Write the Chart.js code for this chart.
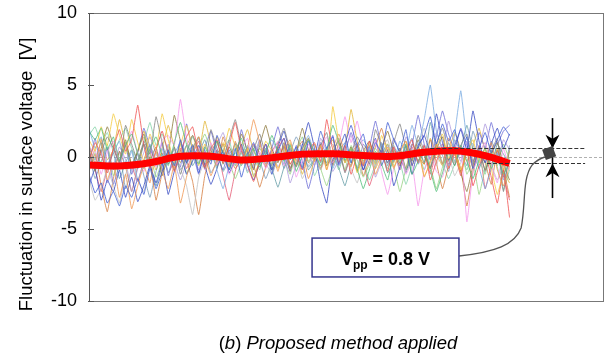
<!DOCTYPE html>
<html>
<head>
<meta charset="utf-8">
<script src="https://cdn.jsdelivr.net/npm/chart.js@4.4.0/dist/chart.umd.min.js"></script>
<style>
html, body { margin: 0; padding: 0; background: #fff; }
canvas { display: block; }
</style>
</head>
<body>
<canvas id="canvas" width="605" height="356"></canvas>
<script>
'use strict';

// y axis ticks
const yTicks = [10, 5, 0, -5, -10];

// thick red trace (averaged fluctuation), x in sample index
const redX = [0, 5, 10, 15, 20, 25, 30, 35, 40, 45, 50, 55, 60, 65, 69];
const redY = [-0.55, -0.62, -0.4, 0.05, 0.05, -0.2, -0.05, 0.2, 0.22, 0.1, 0.05, 0.33, 0.43, 0.1, -0.45];

// individual thin traces, one value per sample index (0..69)
const trace01 = [-1.2,-2.5,-1.8,-3.2,-2.4,-3.4,-2.0,-2.8,-1.5,-2.6,
    -0.8,-2.2,-1.0,0.5,-0.6,1.2,-0.4,0.8,-1.1,0.3,
    -0.5,1.5,0.2,-0.9,0.6,-1.4,0.1,1.0,-0.3,0.9,
    -1.2,0.4,1.3,-0.2,0.7,-0.8,1.1,0.0,1.8,0.6,
    1.4,-0.5,0.9,2.2,0.8,1.6,-0.2,1.0,0.3,2.4,
    1.2,0.4,1.9,-0.6,0.8,1.5,2.8,0.9,2.3,1.1,
    1.9,0.2,1.4,-0.8,0.6,1.7,0.3,1.2,2.1,1.5];
const trace02 = [0.8,-0.5,1.2,-1.6,-0.4,-2.8,-1.2,-3.6,-2.0,-0.6,
    -1.8,0.4,-0.9,-2.2,-0.5,-3.2,-1.4,0.2,1.4,0.1,
    -1.3,-0.2,0.9,-0.7,1.1,-0.4,0.6,2.6,1.0,-0.6,
    0.3,-1.0,0.5,1.2,-0.3,0.4,-1.5,-0.2,0.8,-0.9,
    0.6,1.6,0.2,-0.7,1.0,-0.5,0.4,-1.2,-0.1,0.7,
    -0.8,0.3,1.1,-0.6,0.5,-1.4,-0.3,0.9,-0.5,1.3,
    0.2,-1.1,0.4,-0.7,0.6,-0.2,1.0,-0.9,-2.0,-0.6];
const trace03 = [1.8,1.2,2.0,0.5,1.4,-0.3,0.8,1.6,0.2,-0.8,
    0.6,1.4,0.1,-0.6,1.0,2.4,0.9,0.2,-0.5,0.7,
    -0.2,1.1,0.3,-0.9,0.4,1.3,-0.1,0.6,-0.7,0.2,
    1.5,0.4,-0.3,0.8,-1.0,0.1,1.2,0.3,-0.6,0.5,
    2.2,1.0,-0.2,0.6,-0.8,-2.2,-0.9,0.4,-0.5,-1.6,
    0.2,-0.4,0.9,-1.2,-0.3,0.5,-0.9,-2.4,-1.1,0.3,
    -0.6,0.8,-0.3,-1.5,-0.2,0.6,-0.8,0.1,-1.2,-0.4];
const trace04 = [-0.3,1.0,0.2,-1.1,0.6,1.9,0.4,1.2,3.6,0.8,
    -0.8,0.5,1.8,0.3,-1.0,0.4,1.4,2.1,0.2,-0.7,
    0.6,1.2,-0.4,0.8,2.4,0.5,-0.6,-1.7,-0.3,0.9,
    -0.2,0.6,1.3,-0.5,0.2,-0.9,0.4,1.0,-0.3,2.6,
    0.5,-0.4,0.8,-1.2,0.1,-0.6,1.1,-0.2,0.4,-1.0,
    0.7,-0.5,0.3,1.2,-0.4,0.8,-1.6,-0.3,0.6,-0.8,
    0.2,-1.3,0.5,-2.0,-0.6,0.3,-1.4,-3.2,-0.9,-4.2];
const trace05 = [0.5,-0.8,0.3,1.4,0.6,-0.4,2.2,0.9,-0.3,1.1,
    0.2,2.8,1.0,-0.5,0.7,-1.2,0.3,1.5,0.4,-0.8,
    1.9,0.6,-0.2,1.2,2.6,0.8,-0.4,0.5,1.6,0.1,
    -0.6,0.9,2.0,0.4,-0.7,0.6,1.3,-0.2,0.8,1.7,
    -0.3,0.5,-1.1,0.2,1.4,0.6,-0.5,1.9,0.7,-0.4,
    1.0,2.3,0.6,-0.2,1.5,0.4,-0.8,0.9,2.0,0.5,
    -0.6,0.8,1.6,-0.3,0.7,-1.0,0.4,1.3,-2.4,0.6];
const trace06 = [1.2,0.4,2.1,0.8,3.0,1.5,0.2,2.6,1.0,-0.3,
    1.6,0.5,3.0,1.2,-0.4,0.8,2.2,0.6,-0.6,0.9,
    -0.2,1.4,0.3,2.0,0.7,-0.5,0.6,-1.4,-0.2,1.1,
    0.4,-0.8,0.2,1.0,-0.6,0.5,1.3,-0.3,0.8,-0.9,
    3.5,1.0,-0.4,0.6,-1.1,0.2,0.9,-0.5,1.5,0.3,
    -0.7,0.4,1.1,-0.2,0.6,-1.3,-0.4,0.7,1.6,-0.1,
    0.5,-0.9,0.3,1.2,-0.4,0.6,-0.8,-2.6,-1.0,0.4];
const trace07 = [-0.6,0.5,-1.2,0.3,1.1,-0.4,0.6,1.8,0.2,-1.0,
    0.4,-0.7,1.2,1.5,0.8,4.0,1.3,-0.2,0.7,-0.9,
    1.0,-0.5,0.2,-1.2,-0.3,0.6,1.3,-0.4,0.4,-0.8,
    0.2,1.1,-0.6,0.5,-1.4,-0.2,0.9,-0.3,0.6,1.4,
    -0.4,0.8,2.8,1.0,2.5,0.6,-0.6,1.2,-1.0,-2.6,
    -0.8,0.3,-1.2,-0.4,-3.4,-0.9,0.2,-1.0,-1.4,0.4,
    -0.5,0.8,-4.5,-1.1,0.3,1.0,-0.6,-1.8,0.6,-0.9];
const trace08 = [2.0,0.6,1.4,-0.5,0.3,1.1,-0.8,0.4,-1.6,-0.4,
    0.9,-0.3,0.6,-1.1,0.2,1.0,-0.5,0.4,1.3,-0.2,
    0.7,-0.9,-2.2,-0.6,0.3,-0.4,0.8,0.1,-0.7,0.5,
    1.2,0.3,-0.5,0.9,-0.2,0.6,1.5,0.2,-0.4,0.7,
    -0.8,0.3,1.0,-0.3,0.6,1.2,0.4,-0.5,0.9,0.2,
    -0.3,1.1,0.4,2.2,0.8,2.6,5.0,1.8,0.5,-0.6,
    1.6,4.6,1.2,0.9,-0.7,-2.2,-0.8,0.3,-1.6,-0.3];
const trace09 = [0.3,-1.0,0.6,2.1,0.8,-0.3,1.2,-0.6,0.4,1.6,
    -0.2,0.7,-1.3,0.2,2.9,1.1,-0.4,0.6,1.4,-0.8,
    0.3,1.1,-0.5,0.7,-0.2,1.6,0.4,-0.9,0.8,2.2,
    0.6,-0.4,1.0,-0.8,0.3,2.0,0.5,-0.3,0.9,-0.6,
    0.2,1.3,-0.4,0.7,-1.0,0.4,1.1,-0.2,0.6,1.8,
    0.3,-0.6,0.8,-0.3,1.2,0.1,-0.8,0.5,1.4,-0.3,
    0.7,-1.1,-2.4,-0.6,0.4,-0.9,0.2,1.0,-0.5,-1.6];
const trace10 = [-2.0,-0.8,-3.0,-1.6,-2.4,-0.9,-2.8,-1.4,-3.1,-2.0,
    -0.6,-1.8,-0.4,-2.6,-1.0,0.2,-1.2,-0.3,0.8,-0.6,
    -1.9,-0.8,0.5,-1.1,-0.2,0.9,-0.5,-1.6,-0.4,0.4,
    -0.9,0.7,1.8,0.2,-0.6,0.8,2.4,0.6,-1.8,-3.2,
    -0.2,0.5,1.6,-0.4,0.8,-0.9,0.2,1.3,-0.6,0.5,
    -2.0,-0.7,0.4,-1.2,0.6,1.5,0.3,3.0,1.0,-0.2,
    0.8,1.9,0.5,3.2,1.1,-0.4,0.9,2.0,0.6,1.6];
const trace11 = [-1.5,-3.0,-2.2,-0.8,-2.0,-3.2,-1.2,-0.4,-1.6,-2.4,
    -0.6,0.3,-1.0,-0.3,0.5,-0.8,-2.0,-4.0,-1.4,-0.2,
    0.6,-0.5,0.2,-0.9,-0.1,0.8,-0.6,0.3,1.0,-0.4,
    -1.2,-0.2,0.5,-0.7,0.1,-1.5,-0.6,0.4,-0.9,0.2,
    0.9,-0.3,0.5,-0.8,-1.8,-0.4,0.3,-0.7,0.6,1.2,
    -0.2,0.5,-1.0,-0.3,0.7,2.0,0.4,-0.6,0.8,0.2,
    -1.3,-0.4,0.5,-0.8,0.2,1.0,-0.5,-1.6,-0.6,0.4];
const trace12 = [0.6,-0.2,1.0,-0.9,0.3,-1.5,-0.4,0.5,-0.8,0.9,
    -0.5,-2.0,-0.6,0.4,-0.9,-0.1,0.8,-0.6,0.2,1.2,
    -0.3,0.4,-1.0,-0.2,0.9,-0.6,0.3,-1.3,-0.4,0.5,
    -0.8,-2.1,-0.7,0.2,-0.5,0.6,-0.9,-0.2,0.7,-0.4,
    0.3,-0.8,-2.0,-0.5,0.4,-0.6,0.8,-0.3,0.5,-1.1,
    -0.2,0.6,-0.9,-0.1,0.7,-0.4,2.4,0.6,-0.5,1.0,
    -0.3,0.6,2.2,0.5,-0.8,0.3,-0.6,0.9,0.2,-0.5];
const trace13 = [0.9,-0.4,0.5,-1.8,-0.6,0.7,-0.2,-2.4,-0.8,0.3,
    1.4,0.2,-0.5,0.9,-0.3,-1.6,-0.4,0.6,-0.9,0.4,
    -0.2,0.8,1.7,0.3,-0.5,0.6,-1.0,0.2,1.1,-0.3,
    0.5,-0.7,0.1,-1.8,-0.5,0.9,0.2,-0.6,1.3,0.4,
    -1.0,-0.2,0.6,1.5,0.2,-0.5,0.7,-1.4,-0.3,0.8,
    0.3,-0.9,1.4,0.5,-0.4,0.9,-0.2,1.7,0.6,2.5,
    0.8,-0.3,1.1,-0.6,0.4,2.3,0.9,-0.4,1.2,0.5];
const trace14 = [-0.9,0.3,-0.4,0.9,-1.3,-0.2,1.0,-0.6,0.5,1.4,
    0.2,-1.4,-0.3,0.8,-0.6,0.5,-1.1,-0.2,0.6,1.6,
    0.4,-0.8,0.9,-0.3,-1.5,-0.4,0.7,0.0,-0.9,0.6,
    -0.5,0.7,-0.2,-1.2,0.4,1.4,-0.3,0.5,-0.8,-2.0,
    -0.6,0.4,-0.9,0.8,-0.2,-1.4,-0.5,0.6,-0.1,0.9,
    -0.6,-2.4,-0.8,0.5,-0.3,0.8,-0.6,-2.2,-0.7,0.4,
    -0.4,0.7,-1.2,-0.3,-2.6,-0.8,0.5,-0.6,0.9,-0.2];
const trace15 = [-0.4,1.3,-0.8,0.6,-1.9,-0.5,0.8,-1.2,0.3,2.0,
    0.7,-0.6,1.0,-1.3,0.2,-0.7,2.3,0.4,-1.2,0.6,
    1.8,0.2,-0.9,0.5,-0.4,1.9,0.3,-0.8,1.2,-0.5,
    0.6,2.1,0.4,-1.0,0.8,-0.3,-2.2,-0.6,1.0,0.2,
    1.5,-0.6,0.3,1.7,0.5,-0.9,0.6,2.5,0.7,-0.4,
    1.3,0.3,-1.1,0.8,2.9,0.9,-0.2,1.4,3.2,1.6,
    0.5,2.0,0.8,-0.5,1.7,0.6,2.4,0.9,1.8,2.2];
const trace16 = [-1.0,0.2,-2.0,-3.8,-1.5,0.4,-0.7,-2.4,-0.6,0.9,
    -0.3,-3.0,-1.1,0.3,-0.8,1.0,-0.2,-1.7,-4.0,-1.3,
    0.2,-0.6,1.4,0.1,-0.8,-0.2,0.7,-0.5,-2.1,-0.7,
    0.5,-0.3,0.8,-1.0,0.4,1.1,-0.4,0.3,-0.9,0.6,
    -0.5,1.0,0.2,-0.6,0.5,-1.3,-0.2,0.7,2.0,0.4,
    -0.3,0.6,-0.8,0.9,0.1,-0.5,1.2,-0.4,-2.2,-0.6,
    0.3,-0.8,-3.4,-1.0,0.2,-0.4,-1.9,0.5,-0.8,-2.8];
const trace17 = [1.5,2.1,0.9,1.7,0.4,1.2,2.0,0.6,-0.2,1.0,
    2.4,0.8,1.6,0.3,-0.5,0.9,0.2,1.4,0.5,-0.4,
    0.8,-0.3,0.5,1.2,-0.6,0.3,-1.1,-0.4,0.6,-0.2,
    -0.8,0.4,-0.5,0.9,0.1,-0.7,0.5,-1.3,-0.3,0.6,
    0.2,-0.9,0.4,-0.4,0.9,-0.2,-1.6,-0.5,0.3,-0.8,
    0.5,-0.3,-1.9,-0.6,0.4,-0.9,0.2,0.8,-0.4,-1.5,
    -0.5,0.3,-0.9,0.6,-0.2,-1.2,0.4,-0.7,-2.3,-0.9];
const trace18 = [0.2,-1.5,-0.3,0.7,-0.9,0.4,-2.2,-0.8,0.3,-1.3,
    -2.8,-1.0,0.2,-0.5,0.6,-0.9,-0.1,0.9,-0.4,0.5,
    -1.1,-0.3,0.4,-0.6,1.0,0.3,-0.5,0.8,-0.2,-1.5,
    -0.4,0.6,-0.8,0.3,1.4,0.5,-0.7,-0.1,0.6,-0.6,
    0.4,1.1,-0.3,0.5,-0.8,0.9,0.2,-0.4,1.0,-0.6,
    0.8,-0.2,0.5,1.3,-0.5,0.3,-0.7,0.9,0.1,-1.0,
    1.2,0.3,-0.6,1.8,0.5,-0.4,1.1,0.2,-1.4,0.8];
const trace19 = [-0.7,0.6,1.3,-0.2,0.5,2.6,0.8,-0.5,0.4,1.8,
    0.3,-0.9,0.6,2.2,0.7,-0.4,0.8,1.5,0.2,2.5,
    0.9,-0.3,1.0,0.3,-0.6,0.7,1.9,0.4,-0.3,0.6,
    -0.9,-0.2,0.7,-0.5,0.3,-1.2,0.2,0.9,-0.4,0.5,
    1.2,-0.2,0.6,3.3,1.1,-0.3,0.5,-0.8,0.2,0.9,
    -0.4,0.6,-1.0,0.3,0.8,-0.5,1.3,0.2,-0.6,0.4,
    1.7,0.5,-0.3,0.8,2.0,0.4,-0.5,0.6,-1.0,-1.8];
const trace20 = [0.4,-0.9,-2.4,-0.8,0.5,-0.4,1.0,-0.6,-1.7,-0.2,
    0.8,-0.4,0.3,-1.1,-0.3,0.6,-0.8,0.2,1.1,-0.5,
    -0.2,0.5,-1.3,-3.0,-1.0,0.4,-0.3,0.9,0.2,-0.7,
    0.4,1.0,-0.2,0.6,-0.5,0.3,1.2,0.4,-0.8,0.3,
    -0.6,0.5,-1.0,0.2,0.8,-0.4,-2.0,-0.7,0.5,-0.2,
    0.6,-0.9,0.2,0.7,-0.3,0.5,-1.2,0.4,0.9,-0.5,
    0.3,-1.0,0.6,-0.4,0.8,-2.2,-0.6,0.4,-1.3,-3.0];

const traces = [trace01, trace02, trace03, trace04, trace05, trace06, trace07,
    trace08, trace09, trace10, trace11, trace12, trace13, trace14,
    trace15, trace16, trace17, trace18, trace19, trace20];
const traceColors = [
    'rgba(60, 90, 210, 0.8)', 'rgba(240, 150, 80, 0.8)', 'rgba(80, 190, 120, 0.8)',
    'rgba(240, 80, 80, 0.8)', 'rgba(130, 130, 130, 0.8)', 'rgba(245, 205, 70, 0.85)',
    'rgba(245, 150, 235, 0.8)', 'rgba(120, 170, 225, 0.8)', 'rgba(140, 120, 60, 0.8)',
    'rgba(40, 60, 190, 0.75)', 'rgba(195, 195, 195, 0.85)', 'rgba(90, 150, 160, 0.75)',
    'rgba(170, 150, 220, 0.8)', 'rgba(150, 210, 130, 0.8)', 'rgba(95, 95, 210, 0.75)',
    'rgba(210, 115, 50, 0.75)', 'rgba(130, 210, 165, 0.8)', 'rgba(110, 145, 180, 0.75)',
    'rgba(225, 180, 50, 0.8)', 'rgba(225, 65, 95, 0.7)'
];

const yTitle = 'Fluctuation in surface voltage  [V]';
const vppLabel = { main: 'V', sub: 'pp', rest: ' = 0.8 V' };

const FONT = '"Liberation Sans", Arial, sans-serif';

// annotation geometry in data units
const VPP_TOP = 0.6;
const VPP_BOTTOM = -0.45;
const ANN = {
    topStart: 56, lowStart: 65.3, dashEnd: 81.4,
    arrowX: 76, arrowTop: 2.7, arrowBottom: -2.85, headTop: 1.55, headBottom: -1.4,
    markerX: 75.5, markerY: 0.28,
    boxX0: 36.6, boxX1: 60.7, boxY0: -5.63, boxY1: -8.33
};
// connector curve: start, then bezier triples (control, control, end)
const connector = [
    [60.7, -6.875],
    [66.6, -6.6], [69.9, -6.1], [70.9, -4.93],
    [71.7, -3.33], [71.05, -1.46], [72.7, -0.56],
    [73.5, -0.21], [74.2, -0.07], [74.8, 0.0]
];

const annotations = {
    id: 'annotations',
    beforeDatasetsDraw(chart) {
        const { ctx, chartArea: a, scales: { y } } = chart;
        const y0 = Math.round(y.getPixelForValue(0)) + 0.5;
        ctx.save();
        ctx.strokeStyle = '#b0b0b0';
        ctx.lineWidth = 1;
        ctx.setLineDash([3, 2]);
        ctx.beginPath();
        ctx.moveTo(a.left, y0);
        ctx.lineTo(a.right, y0);
        ctx.stroke();
        ctx.restore();
    },
    afterDatasetsDraw(chart) {
        const { ctx, scales: { x, y } } = chart;
        const px = v => x.getPixelForValue(v);
        const py = v => y.getPixelForValue(v);
        ctx.save();

        // Vpp level lines
        ctx.strokeStyle = '#333';
        ctx.lineWidth = 1.2;
        ctx.setLineDash([4, 2]);
        ctx.beginPath();
        ctx.moveTo(px(ANN.topStart), Math.round(py(VPP_TOP)) + 0.5);
        ctx.lineTo(px(ANN.dashEnd), Math.round(py(VPP_TOP)) + 0.5);
        ctx.moveTo(px(ANN.lowStart), Math.round(py(VPP_BOTTOM)) + 0.5);
        ctx.lineTo(px(ANN.dashEnd), Math.round(py(VPP_BOTTOM)) + 0.5);
        ctx.stroke();
        ctx.setLineDash([]);

        // connector from the label box to the marker
        ctx.strokeStyle = '#555';
        ctx.lineWidth = 1.3;
        ctx.beginPath();
        ctx.moveTo(px(connector[0][0]), py(connector[0][1]));
        for (let i = 1; i + 2 < connector.length; i += 3) {
            ctx.bezierCurveTo(
                px(connector[i][0]), py(connector[i][1]),
                px(connector[i + 1][0]), py(connector[i + 1][1]),
                px(connector[i + 2][0]), py(connector[i + 2][1]));
        }
        ctx.stroke();

        // vertical arrow line
        const ax = Math.round(px(ANN.arrowX)) + 0.5;
        ctx.strokeStyle = '#000';
        ctx.lineWidth = 1.6;
        ctx.beginPath();
        ctx.moveTo(ax, py(ANN.arrowTop));
        ctx.lineTo(ax, py(ANN.arrowBottom));
        ctx.stroke();

        // arrow heads pointing at the two levels
        ctx.fillStyle = '#000';
        const head = (tip, base) => {
            const t = py(tip), b = py(base);
            const notch = b + (t - b) * 0.3;
            ctx.beginPath();
            ctx.moveTo(ax, t);
            ctx.lineTo(ax - 7, b);
            ctx.lineTo(ax, notch);
            ctx.lineTo(ax + 7, b);
            ctx.closePath();
            ctx.fill();
        };
        head(VPP_TOP, ANN.headTop);
        head(VPP_BOTTOM, ANN.headBottom);

        // marker
        ctx.translate(px(ANN.markerX), py(ANN.markerY));
        ctx.rotate(-0.35);
        ctx.fillStyle = '#444';
        ctx.fillRect(-5.5, -5.5, 11, 11);
        ctx.restore();
    },
    afterDraw(chart) {
        const { ctx, chartArea: a, scales: { x, y } } = chart;
        const px = v => x.getPixelForValue(v);
        const py = v => y.getPixelForValue(v);
        ctx.save();

        // plot frame
        ctx.strokeStyle = '#777';
        ctx.lineWidth = 1;
        ctx.strokeRect(a.left + 0.5, a.top + 0.5, a.right - a.left - 1, a.bottom - a.top);
        ctx.strokeStyle = '#555';
        ctx.beginPath();
        ctx.moveTo(a.left + 0.5, a.top);
        ctx.lineTo(a.left + 0.5, a.bottom + 0.5);
        yTicks.forEach(t => {
            const ty = Math.round(py(t)) + 0.5;
            ctx.moveTo(a.left - 1, ty);
            ctx.lineTo(a.left + 5, ty);
        });
        ctx.stroke();

        // Vpp label box
        const bx = px(ANN.boxX0), bw = px(ANN.boxX1) - bx;
        const by = py(ANN.boxY0), bh = py(ANN.boxY1) - by;
        ctx.fillStyle = '#fff';
        ctx.fillRect(bx, by, bw, bh);
        ctx.strokeStyle = '#35358f';
        ctx.lineWidth = 1.5;
        ctx.strokeRect(bx, by, bw, bh);

        ctx.fillStyle = '#000';
        ctx.textBaseline = 'alphabetic';
        ctx.textAlign = 'left';
        const big = 'bold 18px ' + FONT, small = 'bold 12px ' + FONT;
        ctx.font = big;
        const w1 = ctx.measureText(vppLabel.main).width;
        const w3 = ctx.measureText(vppLabel.rest).width;
        ctx.font = small;
        const w2 = ctx.measureText(vppLabel.sub).width;
        let tx = bx + (bw - w1 - w2 - w3) / 2;
        const base = by + bh / 2 + 7;
        ctx.font = big;
        ctx.fillText(vppLabel.main, tx, base);
        tx += w1;
        ctx.font = small;
        ctx.fillText(vppLabel.sub, tx, base + 4);
        tx += w2;
        ctx.font = big;
        ctx.fillText(vppLabel.rest, tx, base);

        // y axis title
        ctx.save();
        ctx.translate(32, 174.5);
        ctx.rotate(-Math.PI / 2);
        ctx.textAlign = 'center';
        ctx.font = '18.5px ' + FONT;
        ctx.fillText(yTitle, 0, 0);
        ctx.restore();

        // caption below the plot
        const parts = [['(', ''], ['b', 'italic '], [')', ''], [' Proposed method applied', 'italic ']];
        let total = 0;
        parts.forEach(p => { ctx.font = p[1] + '18.5px ' + FONT; total += ctx.measureText(p[0]).width; });
        let cx = 338 - total / 2;
        ctx.textAlign = 'left';
        parts.forEach(p => {
            ctx.font = p[1] + '18.5px ' + FONT;
            ctx.fillText(p[0], cx, 349);
            cx += ctx.measureText(p[0]).width;
        });
        ctx.restore();
    }
};

const datasets = [{
    data: redX.map((v, i) => ({ x: v, y: redY[i] })),
    borderColor: '#ff0000',
    borderWidth: 7,
    tension: 0.4
}];
traces.forEach((t, k) => {
    datasets.push({
        data: t.map((v, i) => ({ x: i, y: v })),
        borderColor: traceColors[k],
        borderWidth: 1,
        tension: 0.1
    });
});

const ctx = document.getElementById('canvas').getContext('2d');
new Chart(ctx, {
    type: 'line',
    data: { datasets: datasets },
    options: {
        responsive: false,
        animation: false,
        devicePixelRatio: 1,
        layout: { padding: { top: 13, right: 1, bottom: 55, left: 0 } },
        elements: { point: { radius: 0 } },
        plugins: {
            legend: { display: false },
            tooltip: { enabled: false }
        },
        scales: {
            x: { type: 'linear', display: false, min: 0, max: 84.5 },
            y: {
                min: -10,
                max: 10,
                afterFit: function (scale) {
                    scale.width = 89;
                    scale.paddingTop = 0;
                    scale.paddingBottom = 0;
                },
                afterBuildTicks: function (scale) { scale.ticks = yTicks.map(v => ({ value: v })); },
                border: { display: false },
                grid: { display: false, drawTicks: false },
                ticks: {
                    padding: 12,
                    color: '#000',
                    font: { size: 18, family: FONT }
                }
            }
        }
    },
    plugins: [annotations]
});
</script>
</body>
</html>
